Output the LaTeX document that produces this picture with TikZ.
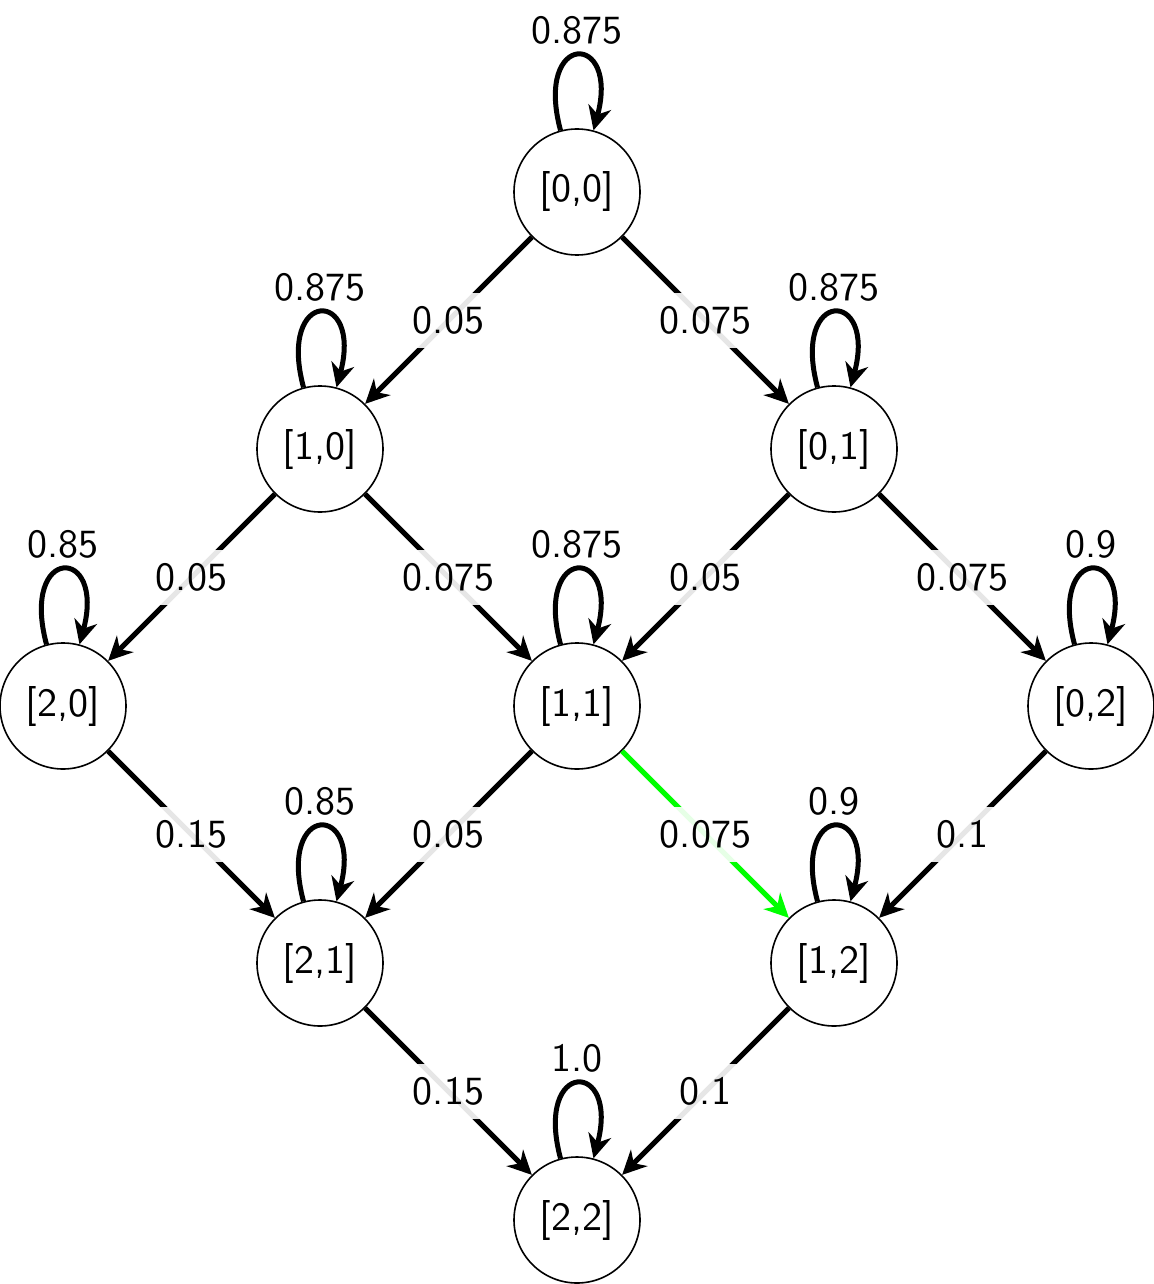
\documentclass[tikz,border=0pt]{standalone}
\usetikzlibrary{arrows.meta}
\renewcommand{\familydefault}{\sfdefault}
\begin{document}
\begin{tikzpicture}[
  state/.style={circle,draw,line width=0.4pt,minimum size=31.5pt,inner sep=0pt,font=\sffamily},
  tr/.style={-{Stealth[length=6pt,width=5.8pt,inset=1.9pt]},line width=1.25pt},
  lbl/.style={fill=white,fill opacity=0.9,text opacity=1,text=black,font=\sffamily},
  lp/.style={tr,out=105,in=75,looseness=8},
  lpl/.style={above,font=\sffamily,yshift=-1pt}
]
\useasboundingbox (0pt,0pt) rectangle (288.5pt,-321pt);
\node[state] (s00) at (144.25pt,-48pt) {[0,0]};
\node[state] (s10) at (80pt,-112.25pt) {[1,0]};
\node[state] (s01) at (208.5pt,-112.25pt) {[0,1]};
\node[state] (s20) at (15.75pt,-176.5pt) {[2,0]};
\node[state] (s11) at (144.25pt,-176.5pt) {[1,1]};
\node[state] (s02) at (272.75pt,-176.5pt) {[0,2]};
\node[state] (s21) at (80pt,-240.75pt) {[2,1]};
\node[state] (s12) at (208.5pt,-240.75pt) {[1,2]};
\node[state] (s22) at (144.25pt,-305pt) {[2,2]};

\draw[lp] (s00) to node[lpl]{0.875} (s00);
\draw[lp] (s10) to node[lpl]{0.875} (s10);
\draw[lp] (s01) to node[lpl]{0.875} (s01);
\draw[lp] (s20) to node[lpl]{0.85} (s20);
\draw[lp] (s11) to node[lpl]{0.875} (s11);
\draw[lp] (s02) to node[lpl]{0.9} (s02);
\draw[lp] (s21) to node[lpl]{0.85} (s21);
\draw[lp] (s12) to node[lpl]{0.9} (s12);
\draw[lp] (s22) to node[lpl]{1.0} (s22);

\draw[tr] (s00) -- node[lbl]{0.05} (s10);
\draw[tr] (s00) -- node[lbl]{0.075} (s01);
\draw[tr] (s10) -- node[lbl]{0.05} (s20);
\draw[tr] (s10) -- node[lbl]{0.075} (s11);
\draw[tr] (s01) -- node[lbl]{0.05} (s11);
\draw[tr] (s01) -- node[lbl]{0.075} (s02);
\draw[tr] (s20) -- node[lbl]{0.15} (s21);
\draw[tr] (s11) -- node[lbl]{0.05} (s21);
\draw[tr,green] (s11) -- node[lbl]{0.075} (s12);
\draw[tr] (s02) -- node[lbl]{0.1} (s12);
\draw[tr] (s21) -- node[lbl]{0.15} (s22);
\draw[tr] (s12) -- node[lbl]{0.1} (s22);
\end{tikzpicture}
\end{document}
